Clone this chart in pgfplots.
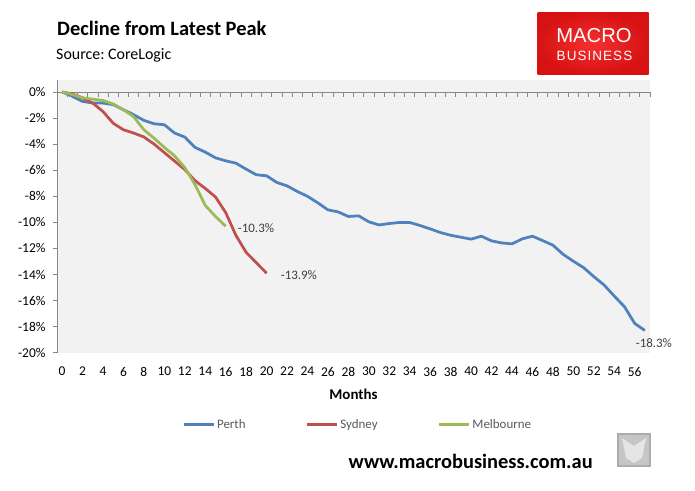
\documentclass[border=0pt]{standalone}
\usepackage{pgfplots}
\pgfplotsset{compat=1.18}
\usepackage{fontspec}
\setmainfont{Carlito}
\newfontfamily\logofont{Liberation Sans}
\newfontfamily\logospaced[LetterSpace=8]{Liberation Sans}
\definecolor{perth}{HTML}{4F81BD}
\definecolor{sydney}{HTML}{C0504D}
\definecolor{melb}{HTML}{9BBB59}
\definecolor{axgray}{HTML}{868686}
\definecolor{labgray}{HTML}{404040}
\definecolor{leggray}{HTML}{595959}
\frenchspacing

\pgfplotstableread{
m v
0 0
1 -0.33
2 -0.72
3 -0.85
4 -0.85
5 -0.97
6 -1.36
7 -1.74
8 -2.18
9 -2.44
10 -2.51
11 -3.15
12 -3.46
13 -4.25
14 -4.61
15 -5.05
16 -5.28
17 -5.46
18 -5.92
19 -6.35
20 -6.43
21 -6.94
22 -7.20
23 -7.63
24 -8.00
25 -8.50
26 -9.04
27 -9.20
28 -9.55
29 -9.50
30 -9.96
31 -10.20
32 -10.09
33 -10.01
34 -10.01
35 -10.24
36 -10.50
37 -10.78
38 -10.99
39 -11.14
40 -11.29
41 -11.06
42 -11.42
43 -11.58
44 -11.65
45 -11.27
46 -11.06
47 -11.40
48 -11.75
49 -12.45
50 -12.98
51 -13.47
52 -14.16
53 -14.80
54 -15.65
55 -16.47
56 -17.75
57 -18.30
}\perth

\pgfplotstableread{
m v
0 0
1 -0.15
2 -0.45
3 -0.85
4 -1.50
5 -2.40
6 -2.90
7 -3.15
8 -3.45
9 -4.00
10 -4.65
11 -5.30
12 -5.95
13 -6.80
14 -7.40
15 -8.05
16 -9.25
17 -11.00
18 -12.30
19 -13.10
20 -13.90
}\sydney

\pgfplotstableread{
m v
0 0
1 -0.20
2 -0.45
3 -0.55
4 -0.65
5 -0.92
6 -1.36
7 -1.90
8 -2.90
9 -3.55
10 -4.25
11 -4.90
12 -5.80
13 -7.10
14 -8.70
15 -9.55
16 -10.30
}\melb

\begin{document}
\begin{tikzpicture}
\path (0bp,0bp) rectangle (695bp,-491bp);

\node[anchor=base west, inner sep=0pt, font=\bfseries\fontsize{20.5}{24}\selectfont] at (57bp,-35bp) {Decline from Latest Peak};
\node[anchor=base west, inner sep=0pt, font=\fontsize{16}{19}\selectfont] at (56bp,-59bp) {Source: CoreLogic};

\shade[inner color={rgb,255:red,246;green,48;blue,48}, outer color={rgb,255:red,214;green,18;blue,18}] (537.5bp,-12.5bp) rectangle (648.5bp,-74.5bp);
\node[anchor=base, inner sep=0pt, text=white, font=\logofont\fontsize{20.3}{22}\selectfont] at (594bp,-42.7bp) {MACRO};
\node[anchor=base, inner sep=0pt, text=white, font=\logospaced\fontsize{13.5}{15}\selectfont] at (594.5bp,-60.3bp) {BUSINESS};

\begin{axis}[
  at={(57bp,-352.7bp)}, anchor=south west,
  scale only axis, width=593bp, height=272.7bp,
  xmin=-0.5, xmax=57.5, ymin=-20, ymax=0.92,
  axis background/.style={fill=black!5},
  axis x line*=bottom, x axis line style={draw=none},
  axis y line*=left, y axis line style={draw=axgray, line width=0.75bp},
  xtick={0,2,...,56},
  xticklabels={0,2,4,6,8,10,12,14,16,18,20,22,24,26,28,30,32,34,36,38,40,42,44,46,48,50,52,54,56},
  x tick style={draw=none},
  ytick={-20,-18,...,0},
  yticklabels={-20\%,-18\%,-16\%,-14\%,-12\%,-10\%,-8\%,-6\%,-4\%,-2\%,0\%},
  y tick style={draw=axgray, line width=0.75bp},
  tick align=outside, major tick length=4bp,
  tick label style={font=\fontsize{13.5}{15}\selectfont},
  yticklabel style={xshift=-4bp},
  xticklabel style={yshift=-7bp},
  xlabel={Months},
  xlabel style={at={(axis description cs:0.5,-0.1734)}, anchor=base, font=\bfseries\fontsize{15}{18}\selectfont},
  clip=false,
  legend columns=3,
  legend style={at={(axis description cs:0.2110,-0.2633)}, anchor=west, draw=none, fill=none,
    font=\fontsize{13}{15}\selectfont, text=leggray, inner sep=0pt,
    nodes={inner xsep=2bp, inner ysep=1bp},
    /tikz/every even column/.append style={column sep=58bp}},
  legend cell align=left,
  legend image code/.code={\draw[#1, line width=2.75bp] (0bp,0bp) -- (30bp,0bp);},
]
\draw[axgray, line width=0.75bp] (axis cs:-0.5,0) -- (axis cs:57.5,0);
\pgfplotsinvokeforeach{0.5,1.5,...,57.5}{\draw[axgray, line width=0.75bp] (axis cs:#1,0) -- ++(0bp,-5bp);}

\addplot[perth, line width=2.75bp, line join=round] table[x=m, y=v] {\perth};
\addlegendentry{Perth}
\addplot[sydney, line width=2.75bp, line join=round] table[x=m, y=v] {\sydney};
\addlegendentry{Sydney}
\addplot[melb, line width=2.75bp, line join=round] table[x=m, y=v] {\melb};
\addlegendentry{Melbourne}

\node[anchor=west, inner sep=0pt, text=labgray, font=\fontsize{13}{15}\selectfont, xshift=12bp, yshift=-1.5bp] at (axis cs:16,-10.3) {-10.3\%};
\node[anchor=west, inner sep=0pt, text=labgray, font=\fontsize{13}{15}\selectfont, xshift=14bp, yshift=-2bp] at (axis cs:20,-13.9) {-13.9\%};
\node[anchor=north, inner sep=0pt, text=labgray, font=\fontsize{13}{15}\selectfont, xshift=9bp, yshift=-8bp] at (axis cs:57,-18.3) {-18.3\%};
\end{axis}

\node[anchor=base west, inner sep=0pt, font=\bfseries\fontsize{20.5}{24}\selectfont] at (348.5bp,-468bp) {www.macrobusiness.com.au};

\draw[fill=gray!45, draw=gray!65, line width=1.5bp] (618bp,-434bp) rectangle (650bp,-466bp);
\fill[gray!20] (622bp,-438bp) -- (634bp,-446bp) -- (646bp,-438bp) -- (642bp,-458bp) -- (634bp,-463bp) -- (626bp,-458bp) -- cycle;
\end{tikzpicture}
\end{document}
